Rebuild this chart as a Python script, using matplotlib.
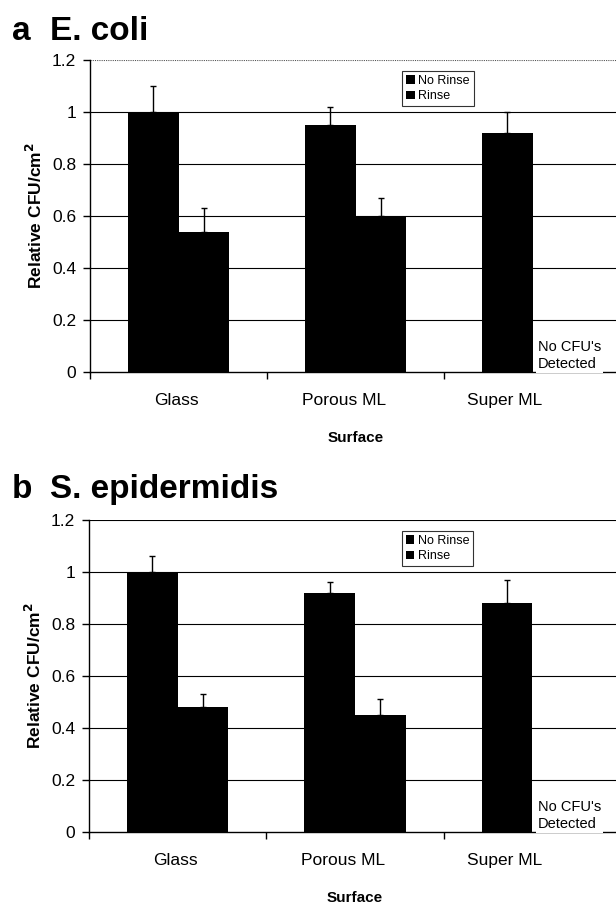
import matplotlib
matplotlib.use("Agg")
import matplotlib.pyplot as plt
import numpy as np

plt.rcParams['font.family'] = ['Liberation Sans', 'DejaVu Sans']

surfaces = ["Glass", "Porous ML", "Super ML"]
series = ["No Rinse", "Rinse"]

ecoli_no_rinse = [1.00, 0.95, 0.92]
ecoli_no_rinse_err = [0.10, 0.07, 0.08]
ecoli_rinse = [0.54, 0.60, 0.0]
ecoli_rinse_err = [0.09, 0.07, 0.0]

sepi_no_rinse = [1.00, 0.92, 0.88]
sepi_no_rinse_err = [0.06, 0.04, 0.09]
sepi_rinse = [0.48, 0.45, 0.0]
sepi_rinse_err = [0.05, 0.06, 0.0]

yticks = [0, 0.2, 0.4, 0.6, 0.8, 1.0, 1.2]
ytick_labels = ["0", "0.2", "0.4", "0.6", "0.8", "1", "1.2"]

W, H = 616, 911
fig = plt.figure(figsize=(W / 100, H / 100), dpi=100)

# category labels sit slightly left of their bar groups
label_shift = [-0.01, -0.065, -0.155]


def px_axes(left, top, right, bottom):
    return fig.add_axes([left / W, 1 - bottom / H, (right - left) / W, (bottom - top) / H])


def panel(ax, no_rinse, nr_err, rinse, r_err, dotted_top):
    x = np.arange(len(surfaces))
    bw = 0.2857
    ax.set_xlim(-0.5, 2.5)
    ax.set_ylim(0, 1.2)
    for y in yticks[1:]:
        if y == 1.2 and dotted_top:
            ax.axhline(y, color="#555555", lw=0.8, ls=(0, (1, 1)), zorder=0)
        else:
            ax.axhline(y, color="black", lw=0.8, zorder=0)
    ax.bar(x - bw / 2, no_rinse, bw, color="black", label=series[0], zorder=2)
    ax.bar(x + bw / 2, rinse, bw, color="black", label=series[1], zorder=2)
    for xi, v, e in zip(x - bw / 2, no_rinse, nr_err):
        if v > 0:
            ax.errorbar(xi, v, yerr=[[0], [e]], fmt="none", ecolor="black",
                        elinewidth=1.0, capsize=2, capthick=1.0, zorder=3)
    for xi, v, e in zip(x + bw / 2, rinse, r_err):
        if v > 0:
            ax.errorbar(xi, v, yerr=[[0], [e]], fmt="none", ecolor="black",
                        elinewidth=1.0, capsize=2, capthick=1.0, zorder=3)
    for s in ["top", "right"]:
        ax.spines[s].set_visible(False)
    ax.spines["left"].set_linewidth(1.0)
    ax.spines["bottom"].set_linewidth(1.0)
    ax.set_yticks(yticks)
    ax.set_yticklabels(ytick_labels, fontsize=12.5)
    ax.tick_params(axis="y", direction="out", length=5, width=1.0, pad=5)
    ax.set_xticks(x + np.array(label_shift))
    ax.set_xticklabels(surfaces, fontsize=12.5)
    ax.tick_params(axis="x", which="major", length=0, pad=15)
    ax.set_xticks([-0.5, 0.5, 1.5, 2.5], minor=True)
    ax.tick_params(axis="x", which="minor", direction="out", length=5, width=1.0)
    ax.set_xlabel("Surface", fontsize=11, fontweight="bold", labelpad=17)
    ax.set_ylabel("Relative CFU/cm$^{\\mathbf{2}}$", fontsize=12.5, fontweight="bold", labelpad=5)
    ax.text(2.03, 0.005, "No CFU's\nDetected", fontsize=10.5, ha="left", va="bottom",
            linespacing=1.25, zorder=4,
            bbox=dict(facecolor="white", edgecolor="none", pad=1.5))
    leg = ax.legend(loc="upper left", bbox_to_anchor=(0.588, 0.965), fontsize=9,
                    frameon=True, fancybox=False, edgecolor="black",
                    handlelength=0.7, handleheight=0.7, handletextpad=0.3,
                    borderpad=0.3, labelspacing=0.3, borderaxespad=0)
    leg.get_frame().set_linewidth(0.8)


ax1 = px_axes(90, 60, 621, 372)
panel(ax1, ecoli_no_rinse, ecoli_no_rinse_err, ecoli_rinse, ecoli_rinse_err, True)
ax2 = px_axes(89, 520, 621, 832)
panel(ax2, sepi_no_rinse, sepi_no_rinse_err, sepi_rinse, sepi_rinse_err, False)

fig.text(12 / W, 1 - 31 / H, "a", fontsize=24, fontweight="bold", va="center", ha="left")
fig.text(50 / W, 1 - 31 / H, "E. coli", fontsize=24, fontweight="bold", va="center", ha="left")
fig.text(12 / W, 1 - 489 / H, "b", fontsize=24, fontweight="bold", va="center", ha="left")
fig.text(50 / W, 1 - 489 / H, "S. epidermidis", fontsize=24, fontweight="bold", va="center", ha="left")

fig.savefig("out.png", dpi=100)
